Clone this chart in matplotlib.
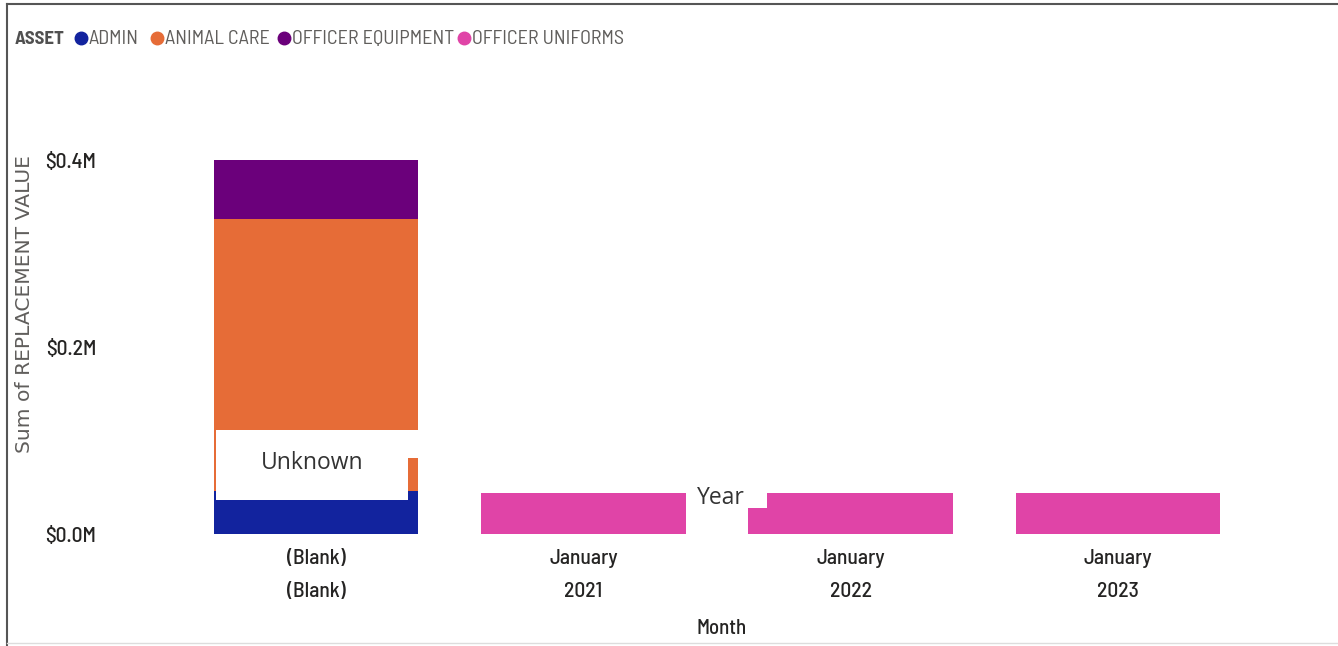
import matplotlib.pyplot as plt
from matplotlib.patches import Rectangle
from matplotlib.lines import Line2D
import numpy as np

W, H = 1338, 646

# data (millions of $)
months = ['(Blank)\n(Blank)', 'January\n2021', 'January\n2022', 'January\n2023']
admin = [0.046, 0, 0, 0]
animal_care = [0.292, 0, 0, 0]
officer_equipment = [0.063, 0, 0, 0]
officer_uniforms = [0, 0.044, 0.044, 0.044]

series = ['ADMIN', 'ANIMAL CARE', 'OFFICER EQUIPMENT', 'OFFICER UNIFORMS']
values = [admin, animal_care, officer_equipment, officer_uniforms]
colors = ['#12239E', '#E66C37', '#6B007B', '#E044A7']
yticks = [0.0, 0.2, 0.4]

narrow = ['Barlow Semi Condensed', 'DejaVu Sans']
plain = ['Open Sans', 'DejaVu Sans']

fig = plt.figure(figsize=(W / 100, H / 100), dpi=100)
fig.patch.set_facecolor('white')

left, right = 182.25, 1251.75
bottom_px, top_px = 534, 534 - 0.45 * 932.5
ax = fig.add_axes([left / W, 1 - bottom_px / H, (right - left) / W, (bottom_px - top_px) / H])

x = np.arange(len(months))
base = np.zeros(len(months))
for name, vals, c in zip(series, values, colors):
    ax.bar(x, vals, width=0.766, bottom=base, color=c, edgecolor='none')
    base += np.array(vals)

ax.set_xlim(-0.5, 3.5)
ax.set_ylim(0, 0.45)
ax.set_yticks(yticks)
ax.set_yticklabels(['$%.1fM' % v for v in yticks], family=narrow, fontsize=15.5,
                   fontweight='medium', color='#252423')
ax.set_xticks(x)
ax.set_xticklabels(months, family=narrow, fontsize=15.5, fontweight='medium',
                   color='#252423', linespacing=1.93)
ax.tick_params(axis='y', length=0, pad=62)
ax.tick_params(axis='x', length=0, pad=11)
for s in ax.spines.values():
    s.set_visible(False)

ax.set_xlabel('Month', family=narrow, fontsize=15, fontweight='medium', color='#252423')
ax.xaxis.set_label_coords((722 - left) / (right - left), (bottom_px - 629) / (bottom_px - top_px))
ax.xaxis.label.set_va('center')
fig.text(25 / W, 1 - 304 / H, 'Sum of REPLACEMENT VALUE', rotation=90, ha='center', va='center',
         family=['DejaVu Sans'], fontsize=14.6, color='#605E5C')

# legend
fig.text(15 / W, 1 - 39 / H, 'ASSET', family=narrow, fontsize=13.5, fontweight='bold',
         color='#505050', ha='left', va='center')
legend_x = [81, 157, 284, 464]
for lx, name, c in zip(legend_x, series, colors):
    fig.add_artist(Line2D([lx / W], [1 - 38 / H], marker='o', markersize=9, color=c,
                          linestyle='none', transform=fig.transFigure))
    fig.text((lx + 8) / W, 1 - 39 / H, name, family=narrow, fontsize=14.5, color='#605E5C',
             ha='left', va='center')

# overlay boxes
def box(x0, y0, x1, y1):
    fig.add_artist(Rectangle((x0 / W, 1 - y1 / H), (x1 - x0) / W, (y1 - y0) / H,
                             transform=fig.transFigure, facecolor='white', edgecolor='none', zorder=5))

box(216, 430, 420, 458)
box(216, 430, 408, 500)
box(686, 474, 767, 508)
fig.text(312 / W, 1 - 463 / H, 'Unknown', family=plain, fontsize=16.5, color='#333333',
         ha='center', va='center', zorder=6)
fig.text(721 / W, 1 - 498 / H, 'Year', family=plain, fontsize=16.5, color='#333333',
         ha='center', va='center', zorder=6)

# frame
fig.add_artist(Line2D([7 / W, 7 / W], [0, 1 - 4 / H], color='#555555', lw=1.5, transform=fig.transFigure))
fig.add_artist(Line2D([7 / W, 1], [1 - 4 / H, 1 - 4 / H], color='#555555', lw=1.5, transform=fig.transFigure))
fig.add_artist(Line2D([7 / W, 1], [1 - 643 / H, 1 - 643 / H], color='#DDDDDD', lw=1, transform=fig.transFigure))

fig.savefig('out.png', dpi=100, facecolor='white')
